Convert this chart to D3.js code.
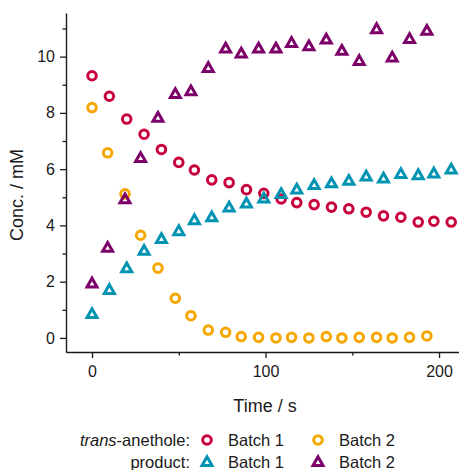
<!DOCTYPE html>
<html>
<head>
<meta charset="utf-8">
<script src="https://cdn.jsdelivr.net/npm/d3@7"></script>
<style>
  body { margin: 0; background: #fff; }
  svg text { font-family: "Liberation Sans", Arial, sans-serif; fill: #1a1a1a; }
</style>
</head>
<body>
<div id="chart"></div>
<script>
'use strict';

// time points (s)
const timeBatch1 = [0, 10, 20, 30, 40, 50, 59, 69, 79, 89, 99, 109, 118, 128, 138, 148, 158, 168, 178, 188, 197, 207];
const timeBatch2 = [0, 9, 19, 28, 38, 48, 57, 67, 77, 86, 96, 106, 115, 125, 135, 144, 154, 164, 173, 183, 193];

// concentrations (mM)
const anetholeBatch1 = [9.32, 8.59, 7.78, 7.24, 6.70, 6.24, 5.97, 5.62, 5.52, 5.27, 5.14, 4.94, 4.81, 4.74, 4.65, 4.59, 4.47, 4.34, 4.29, 4.12, 4.15, 4.12];
const anetholeBatch2 = [8.19, 6.58, 5.12, 3.65, 2.48, 1.41, 0.79, 0.28, 0.20, 0.05, 0.02, 0.00, 0.02, 0.00, 0.05, 0.00, 0.02, 0.02, 0.00, 0.02, 0.07];
const productBatch1 = [0.85, 1.71, 2.48, 3.10, 3.52, 3.80, 4.19, 4.29, 4.64, 4.78, 4.96, 5.12, 5.28, 5.44, 5.50, 5.59, 5.74, 5.67, 5.83, 5.79, 5.85, 5.99];
const productBatch2 = [1.94, 3.21, 4.93, 6.40, 7.83, 8.67, 8.77, 9.60, 10.29, 10.11, 10.29, 10.29, 10.49, 10.37, 10.61, 10.21, 9.85, 10.98, 9.97, 10.63, 10.92];

const xTicks = [0, 100, 200];
const xMinorTicks = [50, 150];
const yTicks = [0, 2, 4, 6, 8, 10];
const yMinorTicks = [1, 3, 5, 7, 9, 11];

const colors = { red: "#c8003c", orange: "#f5a600", cyan: "#0093b2", purple: "#7c0068" };

const W = 459, H = 470;
const svg = d3.select("#chart").append("svg")
    .attr("width", W)
    .attr("height", H);

// scales
const x = d3.scaleLinear().domain([-15, 211.5]).range([66, 459]);
const y = d3.scaleLinear().domain([-0.5, 11.55]).range([352, 13]);

// axes
const yAxis = svg.append("g")
    .attr("transform", "translate(66,0)")
    .call(d3.axisLeft(y).tickValues(yTicks).tickSize(6).tickSizeOuter(0).tickPadding(5));
svg.append("g")
    .attr("transform", "translate(66,0)")
    .call(d3.axisLeft(y).tickValues(yMinorTicks).tickSize(3.5).tickFormat("").tickSizeOuter(0))
    .select(".domain").remove();

const xAxis = svg.append("g")
    .attr("transform", "translate(0,352)")
    .call(d3.axisBottom(x).tickValues(xTicks).tickSize(6).tickSizeOuter(0).tickPadding(8));
svg.append("g")
    .attr("transform", "translate(0,352)")
    .call(d3.axisBottom(x).tickValues(xMinorTicks).tickSize(3.5).tickFormat("").tickSizeOuter(0))
    .select(".domain").remove();

svg.selectAll(".domain").attr("stroke", "#1a1a1a").attr("stroke-width", 1.4);
svg.selectAll(".tick line").attr("stroke", "#1a1a1a").attr("stroke-width", 1.3);
svg.selectAll(".tick text").attr("font-size", 16).attr("fill", "#1a1a1a")
    .attr("font-family", "'Liberation Sans', Arial, sans-serif");

// axis titles
svg.append("text")
    .attr("x", 265)
    .attr("y", 412)
    .attr("text-anchor", "middle")
    .attr("font-size", 18)
    .text("Time / s");

svg.append("text")
    .attr("transform", "translate(23,195) rotate(-90)")
    .attr("text-anchor", "middle")
    .attr("font-size", 18)
    .text("Conc. / mM");

// markers
const triPath = "M0,-5.2L5,3.6L-5,3.6Z";

function drawCircles(times, values, color) {
    svg.append("g").selectAll("circle")
        .data(times.map((t, i) => ({ t: t, v: values[i] })))
        .enter()
        .append("circle")
        .attr("cx", d => x(d.t))
        .attr("cy", d => y(d.v))
        .attr("r", 4.3)
        .attr("fill", "none")
        .attr("stroke", color)
        .attr("stroke-width", 3);
}

function drawTriangles(times, values, color) {
    svg.append("g").selectAll("path")
        .data(times.map((t, i) => ({ t: t, v: values[i] })))
        .enter()
        .append("path")
        .attr("d", triPath)
        .attr("transform", d => `translate(${x(d.t)},${y(d.v)})`)
        .attr("fill", "none")
        .attr("stroke", color)
        .attr("stroke-width", 3)
        .attr("stroke-linejoin", "miter");
}

drawCircles(timeBatch1, anetholeBatch1, colors.red);
drawCircles(timeBatch2, anetholeBatch2, colors.orange);
drawTriangles(timeBatch1, productBatch1, colors.cyan);
drawTriangles(timeBatch2, productBatch2, colors.purple);

// legend
const legend = svg.append("g").attr("font-size", 16.5);

const row1 = legend.append("text")
    .attr("x", 190)
    .attr("y", 446)
    .attr("text-anchor", "end");
row1.append("tspan").attr("font-style", "italic").text("trans");
row1.append("tspan").text("-anethole:");

legend.append("text")
    .attr("x", 190)
    .attr("y", 468)
    .attr("text-anchor", "end")
    .text("product:");

const legendItems = [
    { label: "Batch 1", color: colors.red, shape: "circle", lx: 207, ly: 440 },
    { label: "Batch 2", color: colors.orange, shape: "circle", lx: 318, ly: 440 },
    { label: "Batch 1", color: colors.cyan, shape: "tri", lx: 207, ly: 462 },
    { label: "Batch 2", color: colors.purple, shape: "tri", lx: 318, ly: 462 }
];

legendItems.forEach(d => {
    if (d.shape === "circle") {
        legend.append("circle")
            .attr("cx", d.lx).attr("cy", d.ly).attr("r", 4.3)
            .attr("fill", "none").attr("stroke", d.color).attr("stroke-width", 3);
    } else {
        legend.append("path")
            .attr("d", triPath)
            .attr("transform", `translate(${d.lx},${d.ly})`)
            .attr("fill", "none").attr("stroke", d.color).attr("stroke-width", 3);
    }
    legend.append("text")
        .attr("x", d.lx + 21)
        .attr("y", d.ly + 6)
        .text(d.label);
});
</script>
</body>
</html>
